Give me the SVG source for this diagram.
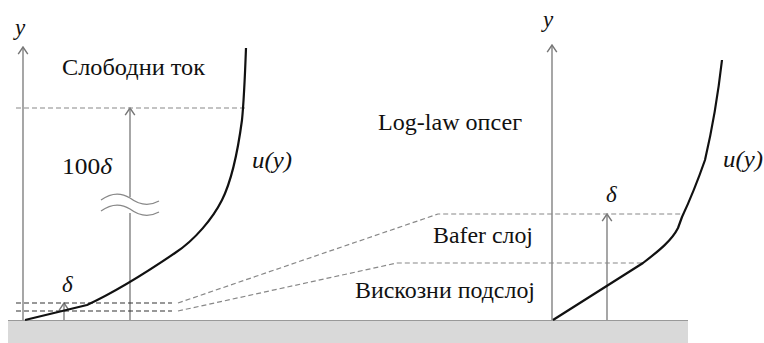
<svg xmlns="http://www.w3.org/2000/svg" width="764" height="343" viewBox="0 0 764 343">
<style>
.t{font-family:"Liberation Serif","Times New Roman",serif;font-size:23px;fill:#111}
.i{font-family:"Liberation Serif","Times New Roman",serif;font-style:italic;font-size:23px;fill:#111}
.ax{stroke:#777;stroke-width:1.3;fill:none}
.dg{stroke:#888;stroke-width:1.2;stroke-dasharray:5,3;fill:none}
.dk{stroke:#333;stroke-width:1.1;stroke-dasharray:5,3;fill:none}
.cv{stroke:#111;stroke-width:2.2;fill:none;stroke-linejoin:round}
</style>
<defs>
<marker id="ah" markerWidth="12" markerHeight="12" refX="9" refY="5" orient="auto" markerUnits="userSpaceOnUse" viewBox="0 0 10 10">
<path d="M3,1 L9,5 L3,9" fill="none" stroke="#777" stroke-width="1.2"/>
</marker>
</defs>
<g id="ground">
<rect x="8" y="320" width="680" height="23" fill="#d9d9d9"/>
<line x1="8" y1="320.5" x2="688" y2="320.5" stroke="#999" stroke-width="1.2"/>
</g>
<g id="connectors">
<line class="ax" x1="23" y1="320" x2="23" y2="47" marker-end="url(#ah)"/>
<line class="ax" x1="130" y1="320" x2="130" y2="108" marker-end="url(#ah)"/>
<line class="ax" x1="64" y1="320" x2="64" y2="303" marker-end="url(#ah)"/>
<line class="ax" x1="552" y1="320" x2="552" y2="45" marker-end="url(#ah)"/>
<line class="ax" x1="607" y1="320" x2="607" y2="214" marker-end="url(#ah)"/>
<line class="dg" x1="16" y1="108" x2="245" y2="108"/>
<line class="dk" x1="16" y1="303" x2="172" y2="303"/>
<line class="dk" x1="16" y1="311" x2="172" y2="311"/>
<polyline class="dg" points="178,303 438,214 682,214"/>
<polyline class="dg" points="178,311 397,263 643,263"/>
</g>
<g id="break">
<rect x="124" y="197" width="12" height="16" fill="#fff"/>
<path d="M101,200 C112,192 122,193 130,198 C138,204 148,207 159,201" fill="none" stroke="#888" stroke-width="1.3"/>
<path d="M101,211 C112,203 122,204 130,209 C138,215 148,218 159,212" fill="none" stroke="#888" stroke-width="1.3"/>
</g>
<g id="curve-left">
<path class="cv" d="M25,320 L87,305 C115,292 150,270 175,253 C195,240 213,218 222,200 C232,180 238,150 242,120 C244,100 245,75 246,48"/>
</g>
<g id="curve-right">
<path class="cv" d="M553,320 L643,263 C660,250 672,240 678,228 L682,217 C690,200 698,180 705,160 C712,130 718,95 722,60"/>
</g>
<g id="labels">
<text class="i" x="15" y="35">y</text>
<text class="i" x="543" y="27">y</text>
<text class="t" x="62" y="75" textLength="143" lengthAdjust="spacingAndGlyphs">Слободни ток</text>
<text class="t" x="62" y="174" textLength="50" lengthAdjust="spacingAndGlyphs">100<tspan font-style="italic">δ</tspan></text>
<text class="i" x="62" y="292">δ</text>
<text class="i" x="606" y="202">δ</text>
<text class="i" x="252" y="168" textLength="40" lengthAdjust="spacingAndGlyphs">u(y)</text>
<text class="i" x="723" y="167" textLength="40" lengthAdjust="spacingAndGlyphs">u(y)</text>
<text class="t" x="378" y="130" textLength="144" lengthAdjust="spacingAndGlyphs">Log-law опсег</text>
<text class="t" x="433" y="243" textLength="100" lengthAdjust="spacingAndGlyphs">Bafer слој</text>
<text class="t" x="355" y="298" textLength="180" lengthAdjust="spacingAndGlyphs">Вискозни подслој</text>
</g>
</svg>
